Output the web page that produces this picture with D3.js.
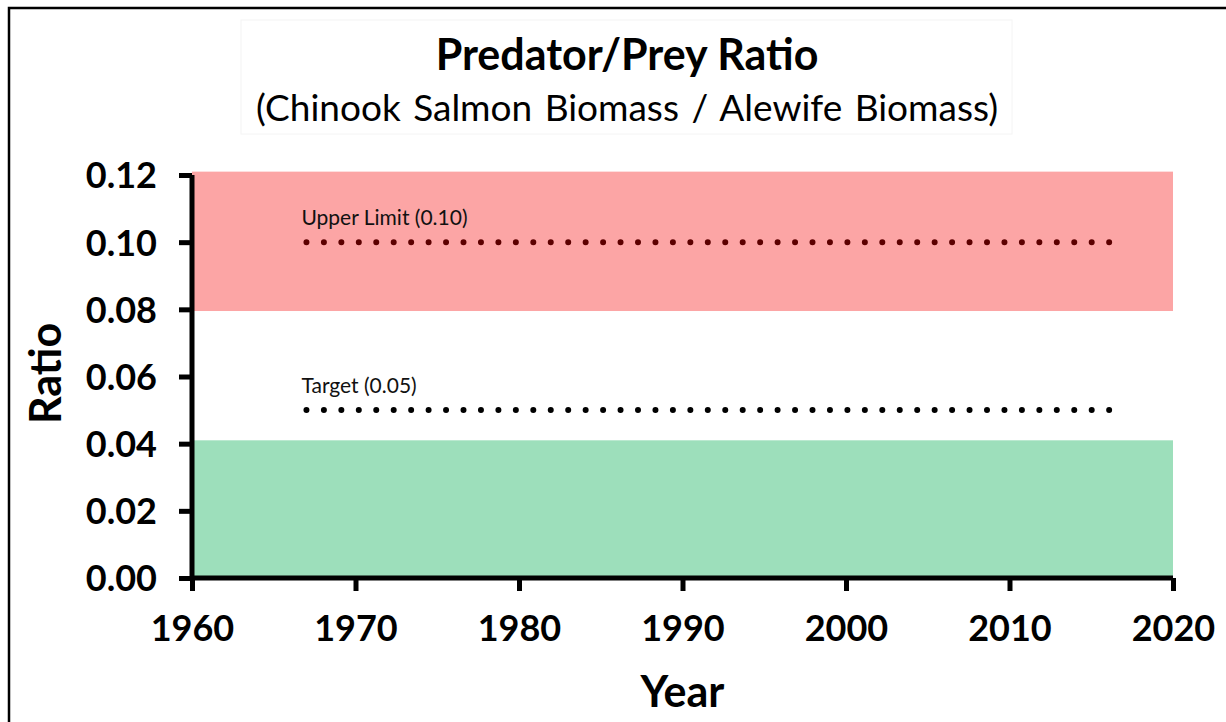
<!DOCTYPE html>
<html>
<head>
<meta charset="utf-8">
<script src="https://cdn.jsdelivr.net/npm/d3@7"></script>
<style>
  body { margin: 0; background: #fff; }
  text { font-family: Lato, "Open Sans", sans-serif; }
</style>
</head>
<body>
<div id="chart"></div>
<script>
// data
const xDomain = [1960, 2020];
const yDomain = [0, 0.12];
const xTicks = [1960, 1970, 1980, 1990, 2000, 2010, 2020];
const yTicks = [0, 0.02, 0.04, 0.06, 0.08, 0.10, 0.12];

const bandNames  = ["above limit", "below target"];
const bandLow    = [0.0795, 0];
const bandHigh   = [0.121, 0.041];
const bandColors = ["#fca5a5", "#9ddfbb"];

const refNames  = ["Upper Limit (0.10)", "Target (0.05)"];
const refValues = [0.10, 0.05];
const refStart  = 1967;
const refEnd    = 2016.5;
const refColors = ["#5c0000", "#000000"];

const W = 1226, H = 722;
const margin = { top: 175, right: 53, bottom: 144, left: 192 };
const width  = W - margin.left - margin.right;
const height = H - margin.top - margin.bottom;

const svg = d3.select("#chart")
  .append("svg")
  .attr("width", W)
  .attr("height", H);

// outer frame (bottom and right run off the picture)
svg.append("path")
  .attr("d", `M9,${H + 5} V8 H${W + 5}`)
  .attr("fill", "none")
  .attr("stroke", "#000")
  .attr("stroke-width", 2.5);

// title box
svg.append("rect")
  .attr("x", 241).attr("y", 20)
  .attr("width", 771).attr("height", 114)
  .attr("fill", "#fff")
  .attr("stroke", "#f4f4f4");

svg.append("text")
  .attr("x", 627).attr("y", 70)
  .attr("text-anchor", "middle")
  .style("font-size", "43px")
  .style("font-weight", "bold")
  .text("Predator/Prey Ratio");

svg.append("text")
  .attr("x", 627).attr("y", 121)
  .attr("text-anchor", "middle")
  .style("font-size", "37px")
  .style("word-spacing", "3px")
  .text("(Chinook Salmon Biomass / Alewife Biomass)");

const g = svg.append("g")
  .attr("transform", `translate(${margin.left},${margin.top})`);

const x = d3.scaleLinear().domain(xDomain).range([0, width]);
const y = d3.scaleLinear().domain(yDomain).range([height, 0]);

// background bands
g.selectAll(".band")
  .data(bandNames.map((n, i) => ({ n, lo: bandLow[i], hi: bandHigh[i], c: bandColors[i] })))
  .enter().append("rect")
    .attr("class", "band")
    .attr("x", x(xDomain[0]))
    .attr("width", x(xDomain[1]) - x(xDomain[0]))
    .attr("y", d => y(d.hi))
    .attr("height", d => y(d.lo) - y(d.hi))
    .attr("fill", d => d.c);

// dotted reference lines
const refs = refNames.map((n, i) => ({ n, v: refValues[i], c: refColors[i] }));

g.selectAll(".ref")
  .data(refs)
  .enter().append("line")
    .attr("class", "ref")
    .attr("x1", x(refStart))
    .attr("x2", x(refEnd))
    .attr("y1", d => y(d.v))
    .attr("y2", d => y(d.v))
    .attr("stroke", d => d.c)
    .attr("stroke-width", 6)
    .attr("stroke-linecap", "round")
    .attr("stroke-dasharray", "0,17.45");

g.selectAll(".refLabel")
  .data(refs)
  .enter().append("text")
    .attr("class", "refLabel")
    .attr("x", x(refStart) - 5)
    .attr("y", d => y(d.v) - 17)
    .style("font-size", "21px")
    .style("fill", "#111")
    .text(d => d.n);

// axes
const xAxis = g.append("g")
  .attr("transform", `translate(0,${height})`)
  .call(d3.axisBottom(x).tickValues(xTicks).tickFormat(d3.format("d")).tickSize(13).tickPadding(24));

const yAxis = g.append("g")
  .call(d3.axisLeft(y).tickValues(yTicks).tickFormat(d3.format(".2f")).tickSize(13).tickPadding(22));

[xAxis, yAxis].forEach(a => {
  a.select(".domain").attr("stroke", "#000").attr("stroke-width", 5);
  a.selectAll(".tick line").attr("stroke", "#000").attr("stroke-width", 5);
  a.selectAll(".tick text")
    .style("font-size", "36px")
    .style("font-weight", "bold")
    .style("font-family", "Lato, sans-serif")
    .attr("fill", "#000");
});
xAxis.select(".domain").attr("d", `M0,0H${width}`);
yAxis.select(".domain").attr("d", `M0,${height + 2.5}V0`);
yAxis.selectAll(".tick text").attr("dy", "0.36em");

// axis labels
svg.append("text")
  .attr("x", margin.left + width / 2)
  .attr("y", 707)
  .attr("text-anchor", "middle")
  .style("font-size", "43px")
  .style("font-weight", "bold")
  .text("Year");

svg.append("text")
  .attr("transform", "rotate(-90)")
  .attr("x", -(margin.top + height / 2) + 3)
  .attr("y", 61)
  .attr("text-anchor", "middle")
  .style("font-size", "43px")
  .style("font-weight", "bold")
  .text("Ratio");
</script>
</body>
</html>
